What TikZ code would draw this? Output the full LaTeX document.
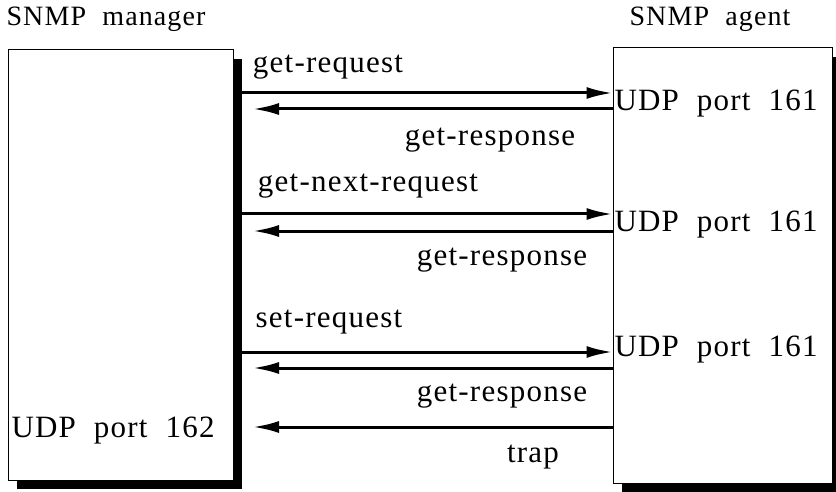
\documentclass[tikz,border=0pt]{standalone}
\usepackage{fontspec}
\setmainfont{Liberation Serif}[LetterSpace=4,WordSpace=2]
\usetikzlibrary{arrows.meta,positioning,shadows}

\begin{document}
\begin{tikzpicture}[x=0.5pt,y=-0.5pt,line width=0.5pt,>={Latex[length=13pt,width=6pt]},
  box/.style={rectangle,draw,fill=white,inner sep=0pt,
    drop shadow={shadow xshift=4.5pt,shadow yshift=-4.5pt,fill=black,opacity=1}},
  msg/.style={->,line width=1.5pt},
  lbl/.style={font=\fontsize{15.5}{18}\selectfont,inner sep=0pt},
  title/.style={font=\fontsize{14}{17}\selectfont,inner sep=0pt}]

  \useasboundingbox (0,0) rectangle (836,492);

  % the two ends
  \node[box,minimum width=112.5pt,minimum height=215pt] (mgr) at (120.5,265) {};
  \node[box,minimum width=109.5pt,minimum height=217.5pt] (agent) at (722.5,265.5) {};
  \node[title] (mgrname) at (106,19) {SNMP manager};
  \node[title] (agentname) at (710,19) {SNMP agent};
  \node[lbl,anchor=west] (port1) at (614,104) {UDP port 161};
  \node[lbl,anchor=west] (port2) at (614,225) {UDP port 161};
  \node[lbl,anchor=west] (port3) at (614,350) {UDP port 161};
  \node[lbl,anchor=west] (port162) at (11,431) {UDP port 162};

  % message ends on the manager side
  \coordinate (q1) at (242,93);
  \coordinate (q2) at (242,214);
  \coordinate (q3) at (242,352);
  \coordinate (p1) at (253,109);
  \coordinate (p2) at (253,231);
  \coordinate (p3) at (253,368);
  \coordinate (p4) at (253,427);

  \draw[msg] (q1) -- (q1 -| agent.west);
  \draw[msg] (p1 -| agent.west) -- (p1);
  \draw[msg] (q2) -- (q2 -| agent.west);
  \draw[msg] (p2 -| agent.west) -- (p2);
  \draw[msg] (q3) -- (q3 -| agent.west);
  \draw[msg] (p3 -| agent.west) -- (p3);
  \draw[msg] (p4 -| agent.west) -- (p4);

  \node[lbl] (req1) at (328,67) {get-request};
  \node[lbl] (resp1) at (490,140) {get-response};
  \node[lbl] (req2) at (368,186) {get-next-request};
  \node[lbl] (resp2) at (502,260) {get-response};
  \node[lbl] (req3) at (329,322) {set-request};
  \node[lbl] (resp3) at (502,396) {get-response};
  \node[lbl] (trap) at (533,457) {trap};
\end{tikzpicture}
\end{document}
